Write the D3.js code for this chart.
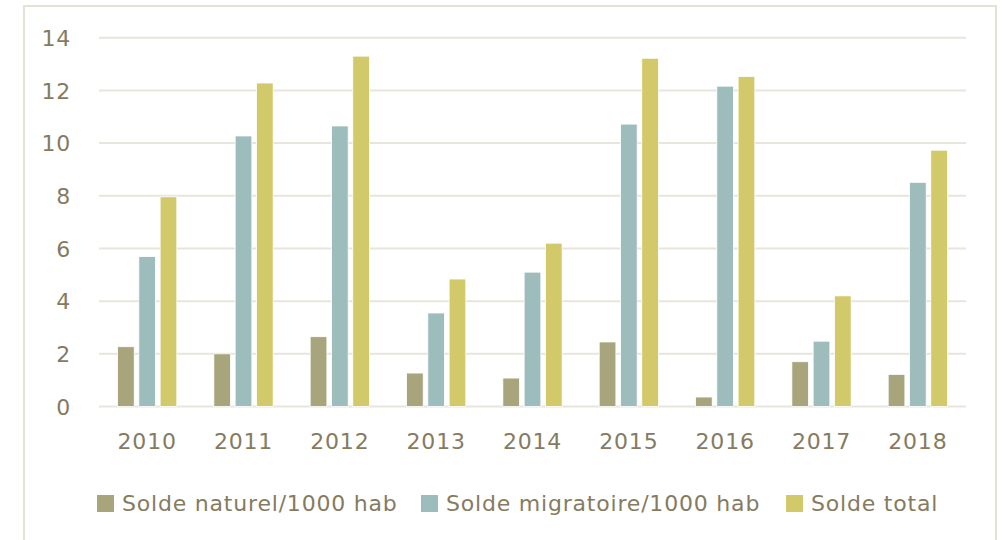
<!DOCTYPE html>
<html><head><meta charset="utf-8">
<script src="https://cdn.jsdelivr.net/npm/d3@7"></script>
<style>body{margin:0;background:#fff}svg{display:block}</style>
</head><body>
<svg id="c" width="1008" height="540"></svg>
<script>
const categories = ["2010","2011","2012","2013","2014","2015","2016","2017","2018"];
const seriesNames = ["Solde naturel/1000 hab","Solde migratoire/1000 hab","Solde total"];
const naturel = [2.27, 2.0, 2.65, 1.27, 1.08, 2.45, 0.36, 1.7, 1.22];
const migratoire = [5.69, 10.27, 10.65, 3.55, 5.1, 10.72, 12.16, 2.48, 8.51];
const total = [7.96, 12.28, 13.3, 4.84, 6.2, 13.22, 12.53, 4.2, 9.73];
const yTicks = [0,2,4,6,8,10,12,14];
const colors = ["#a8a57c","#9dbdbc","#d2ca6a"];
const series = [naturel, migratoire, total];

const svg = d3.select("#c");
const textColor = "#857b5f";
const font = "'DejaVu Sans', sans-serif";
const fs = "22px", ls = "0.8px";

svg.append("rect").attr("x",24).attr("y",6).attr("width",972).attr("height",560)
  .attr("fill","none").attr("stroke","#e4e1d7").attr("stroke-width",2);

const x0 = d3.scaleBand().domain(categories).range([99,966]).paddingInner(0).paddingOuter(0);
const y = d3.scaleLinear().domain([0,14]).range([406.5,37.7]);
const groupW = 59.3;
const x1 = d3.scaleBand().domain([0,1,2]).range([0,groupW]).paddingInner(0.216).paddingOuter(0);

const grid = svg.append("g");
grid.selectAll("line").data(yTicks).join("line")
  .attr("x1",99).attr("x2",966).attr("y1",d=>y(d)).attr("y2",d=>y(d))
  .attr("stroke","#e8e5dc").attr("stroke-width",2);

const yAxis = d3.axisLeft(y).tickValues(yTicks).tickSize(0).tickPadding(0);
const ya = svg.append("g").attr("transform","translate(71,0)").call(yAxis);
ya.select(".domain").remove();
ya.selectAll("text").attr("fill",textColor).style("font-family",font).style("font-size",fs).style("letter-spacing",ls).attr("dy","0.35em");

const xAxis = d3.axisBottom(x0).tickSize(0).tickPadding(0);
const xa = svg.append("g").attr("transform","translate(0,433)").call(xAxis);
xa.select(".domain").remove();
xa.selectAll("text").attr("fill",textColor).style("font-family",font).style("font-size",fs).style("letter-spacing",ls).attr("dy","0.71em");

const groups = svg.append("g").selectAll("g").data(categories).join("g")
  .attr("transform",d=>`translate(${x0(d)+x0.bandwidth()/2-groupW/2},0)`);
groups.selectAll("rect").data((d,i)=>series.map((s,k)=>({k,v:s[i]}))).join("rect")
  .attr("x",d=>x1(d.k)).attr("width",x1.bandwidth())
  .attr("y",d=>y(d.v)).attr("height",d=>y(0)-y(d.v))
  .attr("fill",d=>colors[d.k]).attr("stroke","#fff").attr("stroke-width",0.8);

const legX = [97,421,786];
const leg = svg.append("g").selectAll("g").data(seriesNames).join("g")
  .attr("transform",(d,i)=>`translate(${legX[i]},495)`);
leg.append("rect").attr("width",17).attr("height",17).attr("fill",(d,i)=>colors[i]);
leg.append("text").attr("x",25).attr("y",15.5).text(d=>d)
  .attr("fill",textColor).style("font-family",font).style("font-size",fs).style("letter-spacing",ls);
</script>
</body></html>
